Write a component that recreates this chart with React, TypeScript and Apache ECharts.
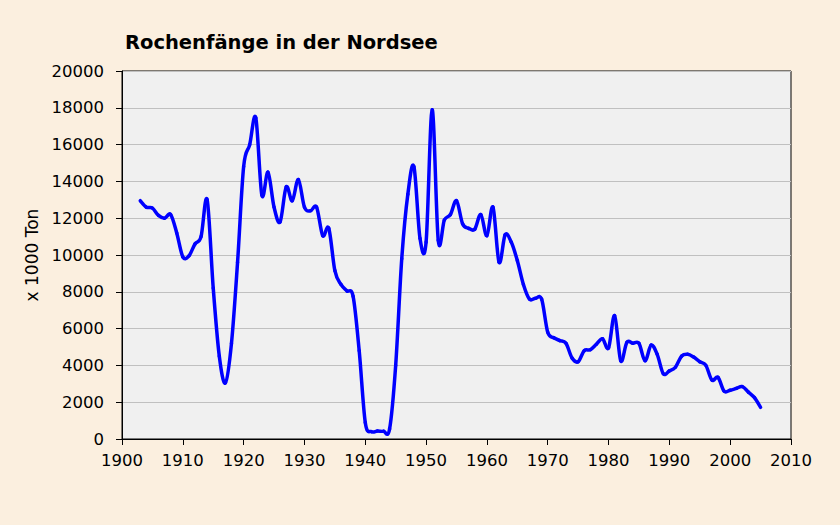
import React, { useEffect, useRef } from "react";
import * as echarts from "echarts";

const title = "Rochenfänge in der Nordsee";
const yAxisName = "x 1000 Ton";
const firstYear = 1903;
const catches = [
  12950, 12600, 12550, 12150, 12000, 12200, 11200, 9900, 9950, 10600,
  11000, 13000, 8200, 4500, 3050, 5200, 9600, 14800, 16000, 17450,
  13250, 14500, 12600, 11800, 13700, 12950, 14100, 12600, 12400, 12600,
  11050, 11450, 9150, 8400, 8050, 7750, 4800, 900, 400, 430,
  420, 550, 4000, 9800, 13300, 14800, 10900, 10700, 17900, 10800,
  11900, 12200, 12950, 11700, 11450, 11400, 12200, 11050, 12600, 9600,
  11100, 10700, 9700, 8400, 7600, 7650, 7600, 5800, 5500, 5350,
  5200, 4400, 4200, 4800, 4850, 5150, 5450, 4950, 6700, 4250,
  5250, 5200, 5200, 4250, 5100, 4600, 3550, 3700, 3900, 4500,
  4600, 4450, 4200, 4000, 3200, 3350, 2600, 2650, 2750, 2850,
  2550, 2250, 1720,
];
const years = catches.map((_, i) => firstYear + i);

const FONT = "'DejaVu Sans', Verdana, sans-serif";
const LINE_COLOR = "#0000FF";

export default function App() {
  const ref = useRef<HTMLDivElement>(null);
  useEffect(() => {
    document.body.style.margin = "0";
    const chart = echarts.init(ref.current!, null, { renderer: "svg" });
    const n = catches.length;
    const renderSegment = (params: any, api: any) => {
      const i = params.dataIndex;
      if (i >= n - 1) return null;
      const pt = (j: number) => {
        const k = Math.max(0, Math.min(n - 1, j));
        return api.coord([years[k], catches[k]]);
      };
      const p0 = pt(i - 1);
      const p1 = pt(i);
      const p2 = pt(i + 1);
      const p3 = pt(i + 2);
      return {
        type: "bezierCurve",
        shape: {
          x1: p1[0],
          y1: p1[1],
          x2: p2[0],
          y2: p2[1],
          cpx1: p1[0] + (p2[0] - p0[0]) / 6,
          cpy1: p1[1] + (p2[1] - p0[1]) / 6,
          cpx2: p2[0] - (p3[0] - p1[0]) / 6,
          cpy2: p2[1] - (p3[1] - p1[1]) / 6,
        },
        style: { stroke: LINE_COLOR, lineWidth: 3.5, fill: "none", lineCap: "round" },
      };
    };
    chart.setOption({
      animation: false,
      backgroundColor: "#FBEFDF",
      title: {
        text: title,
        left: 120,
        top: 27,
        textStyle: { fontFamily: FONT, fontSize: 19.5, fontWeight: "bold", color: "#000" },
      },
      grid: {
        left: 122,
        right: 49,
        top: 71,
        bottom: 86,
        show: true,
        backgroundColor: "#F0F0F0",
        borderColor: "#000",
        borderWidth: 1,
      },
      xAxis: {
        type: "value",
        min: 1900,
        max: 2010,
        interval: 10,
        axisLine: { show: true, lineStyle: { color: "#000", width: 1 } },
        axisTick: { show: true, length: 6, lineStyle: { color: "#000" } },
        splitLine: { show: false },
        axisLabel: {
          color: "#000",
          fontFamily: FONT,
          fontSize: 16.5,
          margin: 13,
          formatter: (v: number) => String(v),
        },
      },
      yAxis: {
        type: "value",
        min: 0,
        max: 20000,
        interval: 2000,
        name: yAxisName,
        nameLocation: "middle",
        nameRotate: 90,
        nameGap: 82,
        nameTextStyle: { color: "#000", fontFamily: FONT, fontSize: 17 },
        axisLine: { show: true, lineStyle: { color: "#000", width: 1 } },
        axisTick: { show: true, length: 6, lineStyle: { color: "#000" } },
        splitLine: { show: true, lineStyle: { color: "#C0C0C0", width: 1 } },
        axisLabel: {
          color: "#000",
          fontFamily: FONT,
          fontSize: 16.5,
          margin: 18,
          formatter: (v: number) => String(v),
        },
      },
      series: [
        {
          type: "custom",
          name: "Rochenfänge",
          data: years.map((y, i) => [y, catches[i]]),
          encode: { x: 0, y: 1 },
          renderItem: renderSegment,
          clip: true,
        },
      ],
    });
    return () => chart.dispose();
  }, []);
  return <div ref={ref} style={{ width: 840, height: 525 }} />;
}
